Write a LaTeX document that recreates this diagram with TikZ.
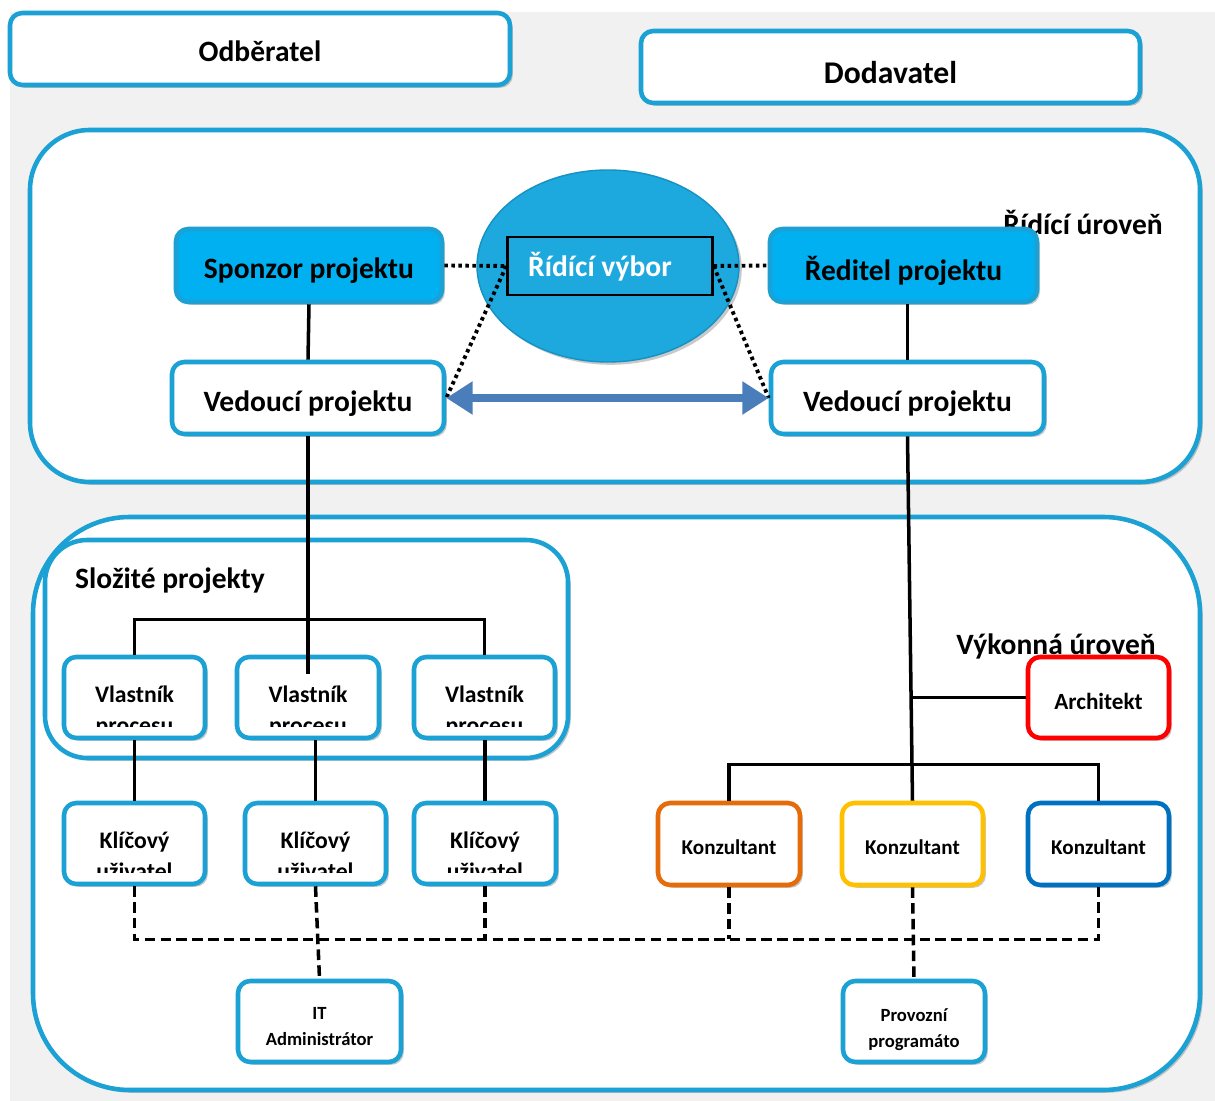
\documentclass[tikz,border=0pt]{standalone}
\usepackage{fontspec}
\setmainfont{Carlito}
\usetikzlibrary{shapes.geometric}
\usetikzlibrary{shadows}
\usetikzlibrary{arrows.meta}

\definecolor{ramec}{RGB}{27,161,211}
\definecolor{vypln}{RGB}{0,176,240}
\definecolor{ovalfill}{RGB}{29,168,222}
\definecolor{ovalhrana}{RGB}{22,145,195}
\definecolor{sipka}{RGB}{74,126,187}
\definecolor{pozadi}{RGB}{241,241,241}
\definecolor{oranzova}{RGB}{228,108,10}
\definecolor{zluta}{RGB}{255,192,0}
\definecolor{modra}{RGB}{0,112,192}
\definecolor{cervena}{RGB}{255,0,0}

\tikzset{
	stin/.style={drop shadow={shadow xshift=1.6pt, shadow yshift=-1.6pt, opacity=0.35, fill=black!60}},
	box/.style={draw=ramec, line width=2.6pt, rounded corners=7pt, fill=white, stin, inner sep=0pt},
	modrybox/.style={box, fill=vypln},
	velky/.style={box, rounded corners=34pt},
	spoj/.style={line width=2pt, black},
	carka/.style={line width=2pt, black, dash pattern=on 6pt off 3pt},
	tecky/.style={line width=2.2pt, black, dash pattern=on 2pt off 2pt},
	hlavni/.style={font=\bfseries\fontsize{16.8}{20}\selectfont, yshift=-3pt},
	stredni/.style={font=\bfseries\fontsize{13.5}{16}\selectfont, anchor=base},
	mala/.style={font=\bfseries\fontsize{12}{14}\selectfont, yshift=-2pt},
	drobna/.style={font=\bfseries\fontsize{10.6}{14.7}\selectfont, align=center, yshift=-3pt}
}

% box from its corners in px: name, x1, y1, x2, y2, style, text
\newcommand{\ramecek}[7]
{
	\node[#6, minimum width={(#4-#2)*0.02cm}, minimum height={(#5-#3)*0.02cm}]
		(#1) at ({(#2+#4)/2},{(#3+#5)/2}) {#7};
}
% box whose second line is cut off: name, x1, y1, x2, y2, line 1, line 2, baseline of line 1, y of cut
\newcommand{\orezany}[9]
{
	\ramecek{#1}{#2}{#3}{#4}{#5}{box}{}
	\begin{scope}
		\clip (#2,#3) rectangle (#4,#9);
		\node[stredni] at ({(#2+#4)/2},#8) {#6};
		\node[stredni] at ({(#2+#4)/2},#8+31) {#7};
	\end{scope}
}

\begin{document}
\begin{tikzpicture}[x=0.02cm, y=-0.02cm]
	% 1215 x 1101 px, y down
	\useasboundingbox (0,0) rectangle (1215,1101);
	\fill[white] (0,0) rectangle (1215,1101);
	\fill[pozadi] (10,12) rectangle (1215,1101);

	% top
	\ramecek{odberatel}{10}{13}{510}{85}{box}{}
	\node[hlavni, yshift=1.5pt] (odbtext) at (odberatel) {Odběratel};
	\ramecek{dodavatel}{641}{31}{1140}{103}{box}{}
	\node[hlavni, font=\bfseries\fontsize{18}{21}\selectfont] (dodtext) at (dodavatel) {Dodavatel};

	% levels
	\ramecek{ridici}{30}{130}{1200}{482}{velky}{}
	\ramecek{vykonna}{33}{517}{1200}{1090}{box, rounded corners=55pt}{}
	\ramecek{slozite}{45}{540}{568}{758}{box, rounded corners=24pt}{}
	\node[hlavni, anchor=east] (ridicitext) at (1169,217) {Řídící úroveň};
	\node[hlavni] (vykonnatext) at (1056,641) {Výkonná úroveň};
	\node[hlavni, anchor=west] (slozitetext) at (69,575) {Složité projekty};

	% steering committee
	\node[ellipse, fill=ovalfill, draw=ovalhrana, line width=0.8pt, stin,
		minimum width={262*0.02cm}, minimum height={192*0.02cm}] (vybor) at (608,266) {};
	\node[draw=black, line width=1.3pt, fill=ovalfill,
		minimum width={205*0.02cm}, minimum height={58*0.02cm}] (vyborlabel) at (610,266) {};
	\node[hlavni, text=white, yshift=2.5pt] (vybortext) at (600,266) {Řídící výbor};

	\ramecek{sponzor}{176}{229}{442}{302}{modrybox}{}
	\node[hlavni] at (sponzor) {Sponzor projektu};
	\ramecek{reditel}{770}{229}{1037}{302}{modrybox}{}
	\node[hlavni] at (reditel) {Ředitel projektu};
	\ramecek{vedL}{172}{362}{444}{434}{box}{}
	\node[hlavni] at (vedL) {Vedoucí projektu};
	\ramecek{vedR}{771}{362}{1044}{434}{box}{}
	\node[hlavni] at (vedR) {Vedoucí projektu};

	% dotted
	\draw[tecky] (sponzor.east) -- (vyborlabel.west);
	\draw[tecky] (vyborlabel.east) -- (reditel.west);
	\draw[tecky] (vyborlabel.west) -- (vedL.east);
	\draw[tecky] (vyborlabel.east) -- (vedR.west);
	\draw[sipka, line width=4.5pt, {Triangle[length=15pt,width=18pt]}-{Triangle[length=15pt,width=18pt]}]
		(vedL.east) -- (vedR.west);

	\draw[spoj] (sponzor.south) -- (vedL.north);
	\draw[spoj] (vedR.north) -- (vedR.north |- reditel.south);

	% customer side
	\orezany{vlast1}{64}{657}{205}{738}{Vlastník}{procesu}{703}{727}
	\orezany{vlast2}{237}{657}{379}{738}{Vlastník}{procesu}{703}{727}
	\orezany{vlast3}{414}{657}{555}{738}{Vlastník}{procesu}{703}{727}
	\orezany{klic1}{64}{803}{205}{884}{Klíčový}{uživatel}{848}{872}
	\orezany{klic2}{245}{803}{386}{884}{Klíčový}{uživatel}{848}{872}
	\orezany{klic3}{414}{803}{556}{884}{Klíčový}{uživatel}{848}{872}

	\draw[spoj] (vlast1.north) -- ++(0,-35) -| (vlast3.north);
	\draw[spoj] (vedL.south) -- ([yshift=-11pt]vlast2.north);
	\draw[spoj] (vlast1.south) -- (klic1.north);
	\draw[spoj] (klic2.north) -- (klic2.north |- vlast2.south);
	\draw[spoj] (klic3.north) -- (klic3.north |- vlast3.south);

	% supplier side
	\ramecek{arch}{1028}{657}{1169}{738}{box, draw=cervena}{}
	\node[mala, font=\bfseries\fontsize{13.2}{15}\selectfont] at (arch) {Architekt};
	\ramecek{konz1}{658}{803}{800}{885}{box, draw=oranzova}{}
	\node[mala] at (konz1) {Konzultant};
	\ramecek{konz2}{842}{803}{983}{885}{box, draw=zluta}{}
	\node[mala] at (konz2) {Konzultant};
	\ramecek{konz3}{1028}{803}{1169}{885}{box, draw=modra}{}
	\node[mala] at (konz3) {Konzultant};

	\draw[spoj] (vedR.south) -- (konz2.north);
	\draw[spoj] (arch.west) -- (arch.west -| konz2.north);
	\draw[spoj] (konz1.north) -- ++(0,-36) -| (konz3.north);

	% bottom
	\ramecek{itadmin}{238}{981}{401}{1062}{box}{}
	\node[drobna] at (itadmin) {IT\\Administrátor};
	\ramecek{provoz}{843}{981}{985}{1062}{box}{}
	\node[drobna, yshift=-1.5pt] at (provoz) {Provozní\\programáto};

	\draw[carka] (klic1.south) -- ++(0,53) -| (konz3.south);
	\draw[carka] (klic3.south) -- ++(0,53);
	\draw[carka] (konz1.south) -- ++(0,52);
	\draw[carka] (klic2.south) -- (itadmin.north);
	\draw[carka] (konz2.south) -- (provoz.north);
\end{tikzpicture}
\end{document}
